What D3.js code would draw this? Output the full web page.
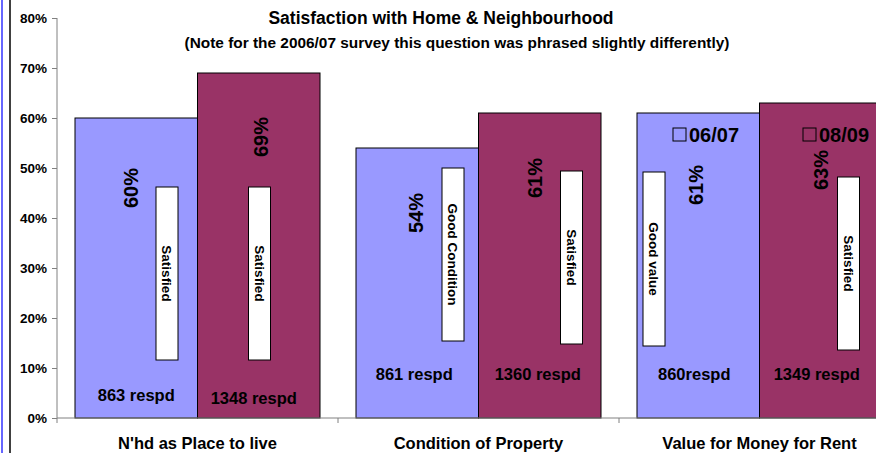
<!DOCTYPE html>
<html>
<head>
<meta charset="utf-8">
<script src="https://cdn.jsdelivr.net/npm/d3@7"></script>
<style>
  html, body { margin: 0; padding: 0; background: #fff; }
  svg { display: block; font-family: "Liberation Sans", Arial, sans-serif; font-weight: bold; }
</style>
</head>
<body>
<svg id="chart" width="876" height="453"></svg>
<script>
// Survey results: share satisfied, by topic and survey year
const categories = ["N'hd as Place to live", "Condition of Property", "Value for Money for Rent"];
const seriesNames = ["06/07", "08/09"];
const values0607 = [60, 54, 61];
const values0809 = [69, 61, 63];
const respondents0607 = ["863 respd", "861 respd", "860respd"];
const respondents0809 = ["1348 respd", "1360 respd", "1349 respd"];
const captions0607 = ["Satisfied", "Good Condition", "Good value"];
const captions0809 = ["Satisfied", "Satisfied", "Satisfied"];
const yTicks = [0, 10, 20, 30, 40, 50, 60, 70, 80];

const seriesValues = [values0607, values0809];
const seriesRespondents = [respondents0607, respondents0809];
const seriesCaptions = [captions0607, captions0809];
const colors = ["#9999FF", "#993366"];

// Hand-placed annotation layout for each bar (series-major order):
// boxDx = caption box offset inside bar, boxTop/boxBottom in % units,
// valDx / valY = percentage label position, respDx / respY = respondent label position.
const annotLayout = [
  [ {boxDx: 81, boxTop: 46.2, boxBottom: 11.6, valDx: 56, valY: 46.0, respDx: 0,  respY: 4.6},
    {boxDx: 86, boxTop: 50.0, boxBottom: 15.4, valDx: 60, valY: 41.0, respDx: -3, respY: 8.8},
    {boxDx: 6,  boxTop: 49.2, boxBottom: 14.4, valDx: 59, valY: 46.6, respDx: -4, respY: 8.8} ],
  [ {boxDx: 51, boxTop: 46.2, boxBottom: 11.6, valDx: 63, valY: 56.2, respDx: -5, respY: 4.0},
    {boxDx: 82, boxTop: 49.4, boxBottom: 14.8, valDx: 56, valY: 48.0, respDx: -2, respY: 8.8},
    {boxDx: 78, boxTop: 48.2, boxBottom: 13.6, valDx: 61, valY: 49.6, respDx: -4, respY: 8.8} ]
];

const svg = d3.select("#chart");
const plotLeft = 57, plotRight = 900, plotTop = 18, plotBottom = 418;

const x0 = d3.scaleBand().domain(categories).range([plotLeft, plotRight]).paddingInner(0).paddingOuter(0);
const x1 = d3.scaleBand().domain(seriesNames).range([18, x0.bandwidth() - 18]).padding(0);
const y = d3.scaleLinear().domain([0, 80]).range([plotBottom, plotTop]);

// Page frame lines on the left edge
svg.append("line").attr("x1", 2).attr("x2", 2).attr("y1", 0).attr("y2", 453)
  .attr("stroke", "#3333ff").attr("stroke-width", 1.5);
svg.append("line").attr("x1", 10).attr("x2", 10).attr("y1", 0).attr("y2", 453)
  .attr("stroke", "#000").attr("stroke-width", 1.5);

// Titles
svg.append("text").attr("x", 441).attr("y", 24).attr("text-anchor", "middle")
  .attr("font-size", 17.5).text("Satisfaction with Home & Neighbourhood");
svg.append("text").attr("x", 457).attr("y", 48).attr("text-anchor", "middle")
  .attr("font-size", 15.4).text("(Note for the 2006/07 survey this question was phrased slightly differently)");

// Bars
const groups = svg.append("g").selectAll("g").data(categories).join("g")
  .attr("transform", d => `translate(${x0(d)},0)`);

seriesNames.forEach((s, si) => {
  groups.append("rect")
    .attr("x", x1(s))
    .attr("y", (d, ci) => y(seriesValues[si][ci]))
    .attr("width", x1.bandwidth())
    .attr("height", (d, ci) => y(0) - y(seriesValues[si][ci]))
    .attr("fill", colors[si])
    .attr("stroke", "#000").attr("stroke-width", 1);
});

// Axes
const yAxis = d3.axisLeft(y).tickValues(yTicks).tickFormat(d => d + "%").tickSize(5).tickPadding(5);
const gy = svg.append("g").attr("transform", `translate(${plotLeft},0)`).call(yAxis);
gy.select(".domain").attr("stroke", "#808080").attr("d", `M0,${plotTop}V${plotBottom}`);
gy.selectAll(".tick line").attr("stroke", "#808080");
gy.selectAll(".tick text").attr("font-size", 13.5).attr("font-family", "Liberation Sans, Arial, sans-serif")
  .attr("font-weight", "bold").attr("fill", "#000");

const gx = svg.append("g").attr("transform", `translate(0,${plotBottom})`);
gx.append("line").attr("x1", plotLeft).attr("x2", plotRight).attr("y1", 0).attr("y2", 0)
  .attr("stroke", "#808080");
categories.forEach((c, i) => {
  gx.append("line").attr("x1", x0(c)).attr("x2", x0(c)).attr("y1", 0).attr("y2", 5).attr("stroke", "#808080");
  gx.append("text").attr("x", x0(c) + x0.bandwidth() / 2).attr("y", 31)
    .attr("text-anchor", "middle").attr("font-size", 16.5).text(c);
});

// Bar annotations: caption box, value label, respondent count
seriesNames.forEach((s, si) => {
  categories.forEach((c, ci) => {
    const L = annotLayout[si][ci];
    const bx = x0(c) + x1(s);
    const bw = x1.bandwidth();
    const v = seriesValues[si][ci];

    const boxX = bx + L.boxDx, boxW = 22;
    const boxY = y(L.boxTop), boxH = y(L.boxBottom) - y(L.boxTop);
    svg.append("rect").attr("x", boxX).attr("y", boxY).attr("width", boxW).attr("height", boxH)
      .attr("fill", "#fff").attr("stroke", "#000").attr("stroke-width", 1);
    svg.append("text")
      .attr("transform", `translate(${boxX + boxW / 2},${boxY + boxH / 2}) rotate(90)`)
      .attr("text-anchor", "middle").attr("dy", "0.35em").attr("font-size", 13.5)
      .text(seriesCaptions[si][ci]);

    svg.append("text")
      .attr("transform", `translate(${bx + L.valDx},${y(L.valY)}) rotate(-90)`)
      .attr("text-anchor", "middle").attr("dy", "0.35em").attr("font-size", 20)
      .text(v + "%");

    svg.append("text").attr("x", bx + bw / 2 + L.respDx).attr("y", y(L.respY)).attr("dy", "0.35em")
      .attr("text-anchor", "middle").attr("font-size", 16.5)
      .text(seriesRespondents[si][ci]);
  });
});

// Legend inside the third group
const legendX = [673, 803];
seriesNames.forEach((s, si) => {
  svg.append("rect").attr("x", legendX[si]).attr("y", 128).attr("width", 13).attr("height", 13)
    .attr("fill", "none").attr("stroke", "#000").attr("stroke-width", 1);
  svg.append("text").attr("x", legendX[si] + 16).attr("y", 135).attr("dy", "0.35em")
    .attr("font-size", 20).text(s);
});
</script>
</body>
</html>
